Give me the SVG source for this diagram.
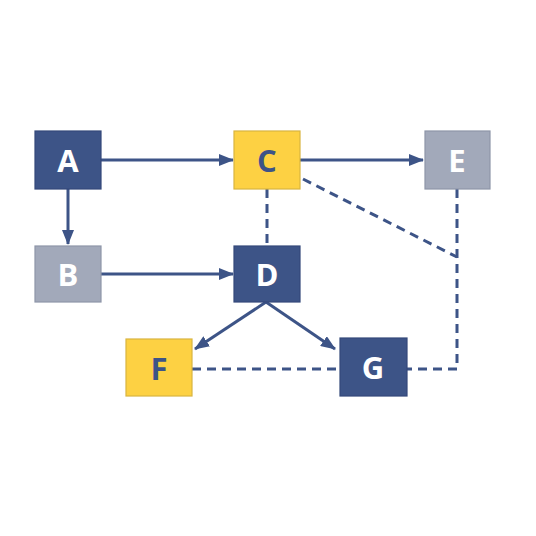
<svg xmlns="http://www.w3.org/2000/svg" width="536" height="536" viewBox="0 0 536 536">
<defs>
<style>
.n{stroke-width:1.2}
.dark{fill:#3d5487;stroke:#34497a}
.yel{fill:#fdd143;stroke:#d9b440}
.gray{fill:#a2a9ba;stroke:#8e96a8}
.t{font-family:"Open Sans","DejaVu Sans",sans-serif;font-weight:bold;font-size:31px;text-anchor:middle;dominant-baseline:central}
.tw{fill:#ffffff}
.tb{fill:#3d5487}
.e{stroke:#3d5487;stroke-width:3;fill:none}
.d{stroke-dasharray:9 6}
</style>
<marker id="ah" viewBox="0 0 15 12" refX="14" refY="6" markerWidth="15" markerHeight="12" markerUnits="userSpaceOnUse" orient="auto">
<path d="M0,0 L15,6 L0,12 Z" fill="#3d5487"/>
</marker>
</defs>
<rect width="536" height="536" fill="#ffffff"/>
<g id="connectors">
<line class="e" x1="101" y1="160" x2="233" y2="160" marker-end="url(#ah)"/>
<line class="e" x1="68" y1="189" x2="68" y2="244" marker-end="url(#ah)"/>
<line class="e" x1="101" y1="274" x2="233" y2="274" marker-end="url(#ah)"/>
<line class="e" x1="300" y1="160" x2="423" y2="160" marker-end="url(#ah)"/>
<line class="e" x1="266" y1="302" x2="195" y2="349" marker-end="url(#ah)"/>
<line class="e" x1="266" y1="302" x2="335" y2="349" marker-end="url(#ah)"/>
<line class="e d" x1="267" y1="189" x2="267" y2="246"/>
<line class="e d" x1="303" y1="179" x2="457" y2="257"/>
<polyline class="e d" points="457,189 457,369 407,369"/>
<line class="e d" x1="192" y1="369" x2="340" y2="369"/>
</g>
<g id="A"><rect class="n dark" x="35" y="131" width="66" height="58"/><text class="t tw" x="68" y="160">A</text></g>
<g id="B"><rect class="n gray" x="35" y="246" width="66" height="56"/><text class="t tw" x="68" y="274">B</text></g>
<g id="C"><rect class="n yel" x="234" y="131" width="66" height="58"/><text class="t tb" x="267" y="160">C</text></g>
<g id="D"><rect class="n dark" x="234" y="246" width="66" height="56"/><text class="t tw" x="267" y="274">D</text></g>
<g id="E"><rect class="n gray" x="425" y="131" width="65" height="58"/><text class="t tw" x="457" y="160">E</text></g>
<g id="F"><rect class="n yel" x="126" y="339" width="66" height="57"/><text class="t tb" x="159" y="368">F</text></g>
<g id="G"><rect class="n dark" x="340" y="338" width="67" height="58"/><text class="t tw" x="373" y="367">G</text></g>
</svg>
